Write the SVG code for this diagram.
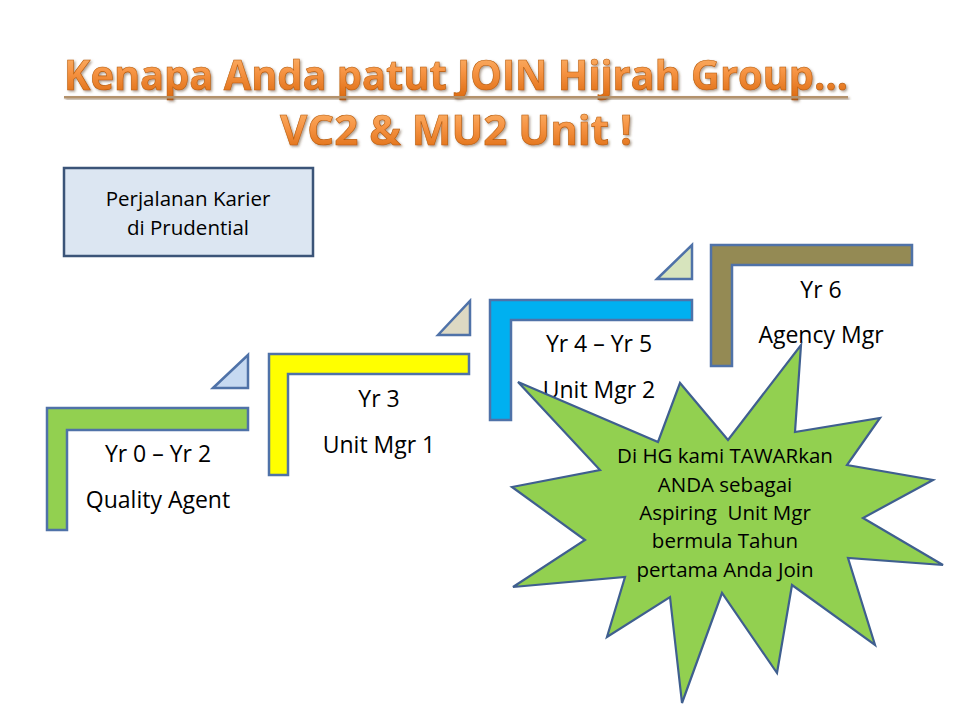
<svg xmlns="http://www.w3.org/2000/svg" width="960" height="720" viewBox="0 0 960 720">
  <defs>
    <linearGradient id="orange" x1="0" y1="0" x2="0" y2="1">
      <stop offset="0" stop-color="#fbbf7c"/>
      <stop offset="0.45" stop-color="#f79646"/>
      <stop offset="1" stop-color="#d9650a"/>
    </linearGradient>
    <filter id="shadow" x="-5%" y="-20%" width="110%" height="150%">
      <feDropShadow dx="1.5" dy="1.5" stdDeviation="1" flood-color="#5a3a1a" flood-opacity="0.5"/>
    </filter>
    <style>
      .title { font-family: "Open Sans", "Liberation Sans", sans-serif; font-weight: bold; font-size: 42px; fill: url(#orange); stroke: #b85a08; stroke-width: 0.6; filter: url(#shadow); }
      .lbl { font-family: "Open Sans", "Liberation Sans", sans-serif; font-size: 23px; fill: #000; text-anchor: middle; }
      .small { font-family: "Open Sans", "Liberation Sans", sans-serif; font-size: 20.5px; fill: #000; text-anchor: middle; }
      .step { stroke: #4f72a8; stroke-width: 2.5; stroke-linejoin: miter; }
      .tri { stroke: #4f72a8; stroke-width: 2.5; stroke-linejoin: miter; }
    </style>
  </defs>
  <rect width="960" height="720" fill="#ffffff"/>

  <g id="title">
    <text class="title" x="64" y="90" textLength="784" lengthAdjust="spacingAndGlyphs">Kenapa Anda patut JOIN Hijrah Group…</text>
    <rect x="64" y="96" width="784" height="2.5" fill="#b3926c" filter="url(#shadow)"/>
    <text class="title" x="280" y="145" textLength="352" lengthAdjust="spacingAndGlyphs">VC2 &amp; MU2 Unit !</text>
  </g>

  <g id="box-career">
    <rect x="64" y="168" width="249" height="88" fill="#dce6f2" stroke="#3b5478" stroke-width="2.5"/>
    <text class="small" x="188" y="206">Perjalanan Karier</text>
    <text class="small" x="188" y="235">di Prudential</text>
  </g>

  <g id="connectors">
    <polygon class="tri" points="213,388 248,355 248,388" fill="#c6d9f1"/>
    <polygon class="tri" points="438,335 470,301 470,335" fill="#ddd9c3"/>
    <polygon class="tri" points="657,279 692,245 692,279" fill="#d7e4bd"/>
  </g>

  <g id="step-quality-agent">
    <polygon class="step" points="47,408 248,408 248,430 67,430 67,530 47,530" fill="#92d050"/>
    <text class="lbl" x="158" y="462">Yr 0 – Yr 2</text>
    <text class="lbl" x="158" y="508">Quality Agent</text>
  </g>

  <g id="step-unit-mgr-1">
    <polygon class="step" points="269,354 469,354 469,374 288,374 288,475 269,475" fill="#ffff00"/>
    <text class="lbl" x="379" y="407">Yr 3</text>
    <text class="lbl" x="379" y="453">Unit Mgr 1</text>
  </g>

  <g id="step-unit-mgr-2">
    <polygon class="step" points="490,300 692,300 692,320 511,320 511,420 490,420" fill="#00b0f0"/>
    <text class="lbl" x="599" y="352">Yr 4 – Yr 5</text>
    <text class="lbl" x="599" y="398">Unit Mgr 2</text>
  </g>

  <g id="step-agency-mgr">
    <polygon class="step" points="711,245 912,245 912,265 732,265 732,366 711,366" fill="#948a54"/>
    <text class="lbl" x="821" y="298">Yr 6</text>
    <text class="lbl" x="821" y="343">Agency Mgr</text>
  </g>

  <g id="star-offer">
    <polygon points="518,382 658,442 680,383 728,440 801,345 795,432 880,418 847,465 933,480 863,518 943,565 848,558 875,645 792,585 777,673 722,593 682,703 670,597 607,637 625,577 513,587 585,540 512,487 600,470" fill="#92d050" stroke="#3f5f8f" stroke-width="2.2" stroke-linejoin="miter"/>
    <text class="small" x="725" y="463">Di HG kami TAWARkan</text>
    <text class="small" x="725" y="492">ANDA sebagai</text>
    <text class="small" x="725" y="520" xml:space="preserve">Aspiring  Unit Mgr</text>
    <text class="small" x="725" y="548">bermula Tahun</text>
    <text class="small" x="725" y="577">pertama Anda Join</text>
  </g>
</svg>
